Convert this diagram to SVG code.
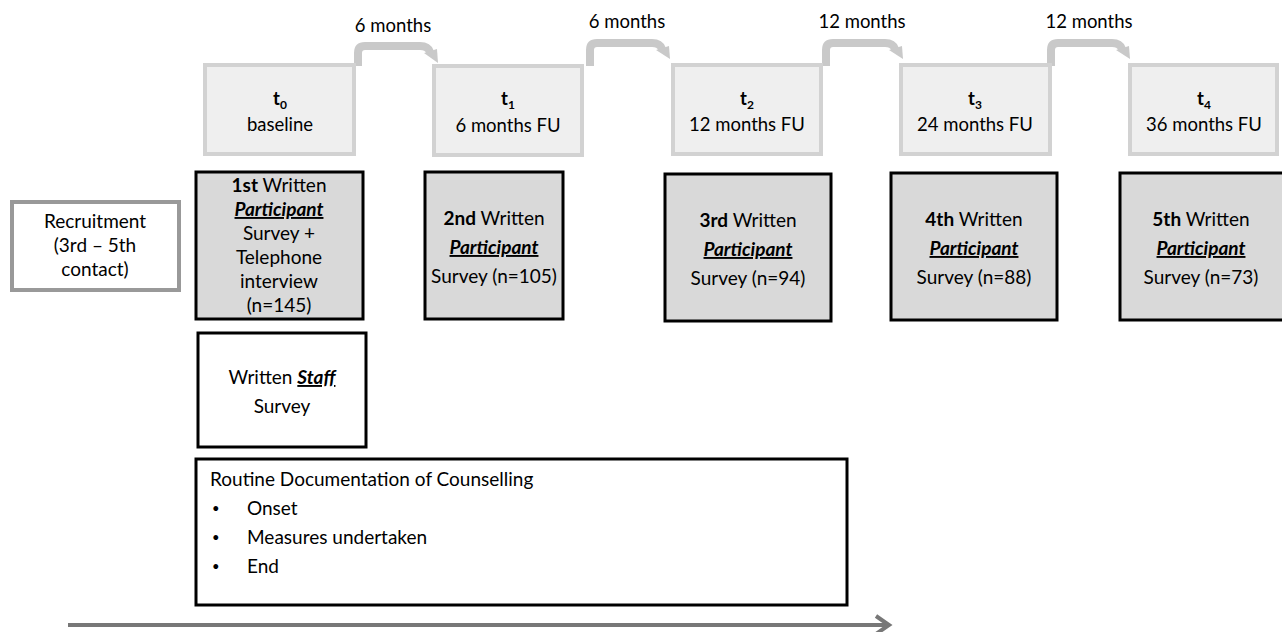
<svg xmlns="http://www.w3.org/2000/svg" width="1282" height="632" viewBox="0 0 1282 632">
<style>
text{font-family:Lato,"Open Sans","Liberation Sans",sans-serif;font-size:19px;fill:#000;text-anchor:middle}
.tp{fill:#efefef;stroke:#d2d2d2;stroke-width:4}
.sv{fill:#d9d9d9;stroke:#000;stroke-width:3}
.wb{fill:#fff;stroke:#000;stroke-width:3}
.rc{fill:#fff;stroke:#999;stroke-width:4}
.ca{fill:none;stroke:#c9c9c9;stroke-width:8;stroke-linejoin:round}
.ah{fill:#c9c9c9}
.b{font-weight:bold}
.p{font-weight:bold;font-style:italic;text-decoration:underline}
.sub{font-size:12px;font-weight:bold}
.l{text-anchor:start}
.bu{font-size:13px;text-anchor:start}
.tl{font-size:18.5px}
</style>
<g id="connectors">
<path class="ca" d="M358,66 V53 Q358,46 365,46 H420 Q428,46 430,52"/>
<polygon class="ah" points="424,53 437,49 438,63"/>
<path class="ca" d="M590,66 V50 Q590,43 597,43 H652 Q660,43 662,49"/>
<polygon class="ah" points="656,50 669,46 670,59"/>
<path class="ca" d="M826,66 V50 Q826,43 833,43 H885 Q893,43 895,49"/>
<polygon class="ah" points="889,50 902,46 903,59"/>
<path class="ca" d="M1051,66 V50 Q1051,43 1058,43 H1112 Q1120,43 1122,49"/>
<polygon class="ah" points="1116,50 1129,46 1130,59"/>
<text class="tl" x="393" y="32">6 months</text>
<text class="tl" x="627" y="28">6 months</text>
<text class="tl" x="862" y="28">12 months</text>
<text class="tl" x="1089" y="28">12 months</text>
<line x1="68" y1="625" x2="888" y2="625" stroke="#777" stroke-width="4"/>
<polyline points="876,616 889,625 876,634" fill="none" stroke="#777" stroke-width="4"/>
</g>
<g id="t0"><rect class="tp" x="205" y="65" width="149" height="89"/><text class="tl" x="280" y="105"><tspan class="b">t</tspan><tspan class="sub" dy="4">0</tspan></text><text class="tl" x="280" y="131">baseline</text></g>
<g id="t1"><rect class="tp" x="434" y="66" width="148" height="89"/><text class="tl" x="508" y="105"><tspan class="b">t</tspan><tspan class="sub" dy="4">1</tspan></text><text class="tl" x="508" y="132">6 months FU</text></g>
<g id="t2"><rect class="tp" x="673" y="65" width="148" height="89"/><text class="tl" x="747" y="105"><tspan class="b">t</tspan><tspan class="sub" dy="4">2</tspan></text><text class="tl" x="747" y="131">12 months FU</text></g>
<g id="t3"><rect class="tp" x="901" y="65" width="149" height="89"/><text class="tl" x="975" y="105"><tspan class="b">t</tspan><tspan class="sub" dy="4">3</tspan></text><text class="tl" x="975" y="131">24 months FU</text></g>
<g id="t4"><rect class="tp" x="1130" y="65" width="147" height="89"/><text class="tl" x="1204" y="105"><tspan class="b">t</tspan><tspan class="sub" dy="4">4</tspan></text><text class="tl" x="1204" y="131">36 months FU</text></g>
<g id="recruitment"><rect class="rc" x="12" y="202" width="167" height="88"/><text x="95" y="228">Recruitment</text><text x="95" y="252">(3rd – 5th</text><text x="95" y="276">contact)</text></g>
<g id="survey1"><rect class="sv" x="196" y="172" width="167" height="147"/>
<text x="279" y="192"><tspan class="b">1st</tspan> Written</text>
<text x="279" y="216" class="p">Participant</text>
<text x="279" y="240">Survey +</text>
<text x="279" y="264">Telephone</text>
<text x="279" y="288">interview</text>
<text x="279" y="312">(n=145)</text></g>
<g id="survey2"><rect class="sv" x="425" y="172" width="138" height="147"/>
<text x="494" y="225"><tspan class="b">2nd</tspan> Written</text>
<text x="494" y="254" class="p">Participant</text>
<text x="494" y="283">Survey (n=105)</text></g>
<g id="survey3"><rect class="sv" x="665" y="174" width="166" height="147"/>
<text x="748" y="227"><tspan class="b">3rd</tspan> Written</text>
<text x="748" y="256" class="p">Participant</text>
<text x="748" y="285">Survey (n=94)</text></g>
<g id="survey4"><rect class="sv" x="891" y="173" width="166" height="147"/>
<text x="974" y="226"><tspan class="b">4th</tspan> Written</text>
<text x="974" y="255" class="p">Participant</text>
<text x="974" y="284">Survey (n=88)</text></g>
<g id="survey5"><rect class="sv" x="1120" y="173" width="164" height="147"/>
<text x="1201" y="226"><tspan class="b">5th</tspan> Written</text>
<text x="1201" y="255" class="p">Participant</text>
<text x="1201" y="284">Survey (n=73)</text></g>
<g id="staff"><rect class="wb" x="198" y="333" width="168" height="114"/>
<text x="282" y="384">Written <tspan class="p">Staff</tspan></text>
<text x="282" y="413">Survey</text></g>
<g id="routine"><rect class="wb" x="196" y="459" width="651" height="146"/>
<text class="l" x="210" y="486">Routine Documentation of Counselling</text>
<text class="bu" x="212" y="513">•</text><text class="l" x="247" y="515">Onset</text>
<text class="bu" x="212" y="542">•</text><text class="l" x="247" y="544">Measures undertaken</text>
<text class="bu" x="212" y="571">•</text><text class="l" x="247" y="573">End</text></g>
</svg>
